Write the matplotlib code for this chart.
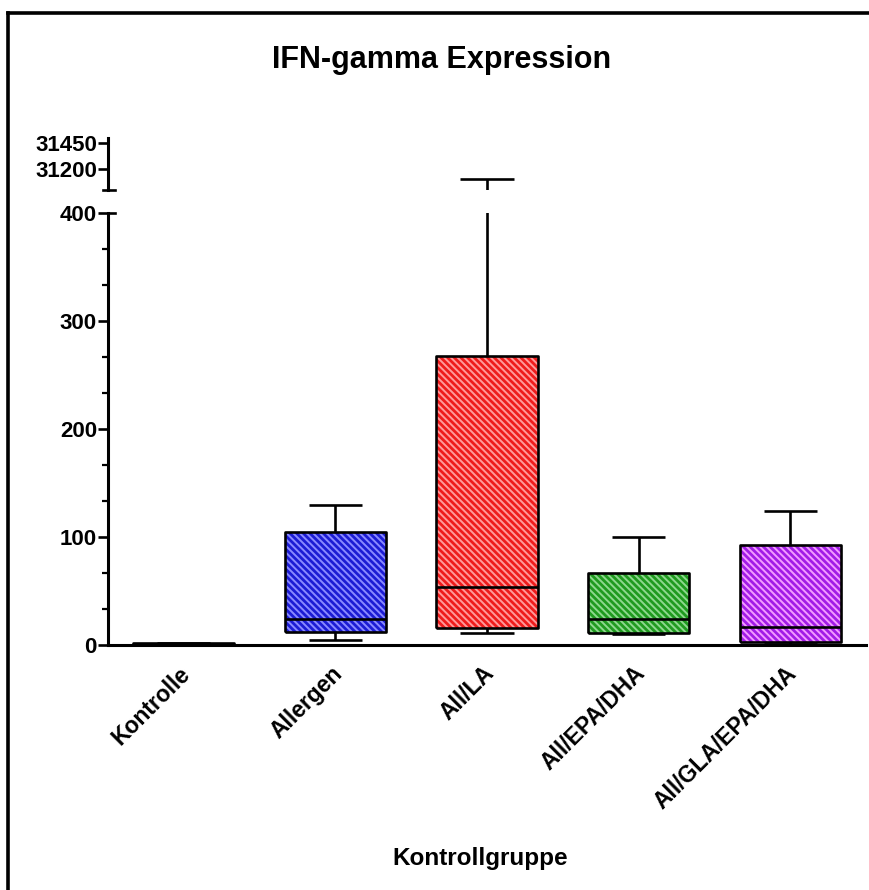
import matplotlib
matplotlib.use("Agg")
import matplotlib.pyplot as plt
import matplotlib.transforms as mtransforms
from matplotlib.ticker import MultipleLocator, FixedLocator

plt.rcParams['font.family'] = ['Liberation Sans', 'DejaVu Sans']
plt.rcParams['font.weight'] = 'bold'
plt.rcParams['hatch.linewidth'] = 1.4

# Box statistics per group
groups = ["Kontrolle", "Allergen", "All/LA", "All/EPA/DHA", "All/GLA/EPA/DHA"]
whisker_low = [0.5, 5, 11, 10, 1]
q1 = [0.5, 12, 16, 11, 3]
median = [1, 24, 54, 24, 17]
q3 = [2, 105, 268, 67, 93]
whisker_high = [2, 130, 31110, 100, 124]

face_colors = ["#ffffff", "#1c1cd4", "#ee1c1c", "#1f9a1f", "#a21ce6"]
stripe_colors = ["#ffffff", "#8a8aff", "#ff9a9a", "#8ed88e", "#f29cff"]

stats = [dict(label=g, whislo=lo, q1=a, med=m, q3=b, whishi=hi, fliers=[])
         for g, lo, a, m, b, hi in zip(groups, whisker_low, q1, median, q3, whisker_high)]
positions = list(range(1, len(groups) + 1))

fig = plt.figure(figsize=(8.69, 8.90), dpi=100)
W, H = 869, 890

def frac(x0, y0, x1, y1):
    return [x0 / W, 1 - y1 / H, (x1 - x0) / W, (y1 - y0) / H]

ax = fig.add_axes(frac(108, 213, 866, 645))
ax_top = fig.add_axes(frac(108, 138, 866, 190), sharex=ax)

line_kw = dict(color="black", linewidth=1.9, solid_capstyle="butt")

def draw(axis, hatched):
    if hatched:
        res = axis.bxp(stats, positions=positions, widths=0.667, patch_artist=True,
                       showcaps=False, showfliers=False,
                       whiskerprops=dict(linewidth=0), medianprops=dict(linewidth=0),
                       boxprops=dict(linewidth=0))
        for patch, fc, sc in zip(res["boxes"], face_colors, stripe_colors):
            patch.set_facecolor(fc)
            patch.set_edgecolor(sc)
            patch.set_hatch("\\" * 5)
            patch.set_linewidth(0)
    axis.bxp(stats, positions=positions, widths=0.667, showfliers=False,
             capwidths=0.35,
             boxprops=line_kw, whiskerprops=line_kw, capprops=line_kw,
             medianprops=line_kw)

draw(ax, True)
draw(ax_top, False)

tick_fs = 16

# Lower segment
ax.set_xlim(0.5, 5.5)
ax.set_ylim(0, 400)
ax.set_xticks(positions)
ax.set_xticklabels([])
ax.tick_params(axis="x", length=0)
label_tf = ax.get_xaxis_transform() + mtransforms.ScaledTranslation(-5 / 100, -17 / 100,
                                                                    fig.dpi_scale_trans)
for pos, name in zip(positions, groups):
    ax.text(pos, 0, name, transform=label_tf, rotation=45, ha="right", va="top",
            rotation_mode="anchor", fontsize=16.5, fontweight="bold")

ax.yaxis.set_major_locator(MultipleLocator(100))
ax.yaxis.set_minor_locator(FixedLocator([100 / 3 * k for k in range(1, 13) if k % 3]))
ax.tick_params(axis="y", which="major", length=7, width=1.9, labelsize=tick_fs, pad=1)
ax.tick_params(axis="y", which="minor", length=4, width=1.6)
for lab in ax.get_yticklabels():
    lab.set_fontweight("bold")
for s in ("top", "right"):
    ax.spines[s].set_visible(False)
ax.spines["left"].set_linewidth(2.2)
ax.spines["bottom"].set_linewidth(2.2)
ax.plot([0, 0.009], [1, 1], transform=ax.transAxes, color="black",
        linewidth=1.9, clip_on=False)

# Upper segment
ax_top.set_ylim(31000, 31500)
ax_top.set_yticks([31200, 31450])
ax_top.tick_params(axis="y", length=7, width=1.9, labelsize=tick_fs, pad=1)
ax_top.tick_params(axis="x", bottom=False, labelbottom=False)
for lab in ax_top.get_yticklabels():
    lab.set_fontweight("bold")
for s in ("top", "right", "bottom"):
    ax_top.spines[s].set_visible(False)
ax_top.spines["left"].set_linewidth(2.2)
ax_top.spines["left"].set_bounds(31000, 31500)
ax_top.plot([-0.006, 0.009], [0, 0], transform=ax_top.transAxes, color="black",
            linewidth=1.9, clip_on=False)
ax_top.patch.set_alpha(0)

fig.text(442 / W, 1 - 60 / H, "IFN-gamma Expression", ha="center", va="center",
         fontsize=22, fontweight="bold")
fig.text(480 / W, 1 - 858 / H, "Kontrollgruppe", ha="center", va="center",
         fontsize=17.5, fontweight="bold")

# Frame along the top and left edges
fig.add_artist(plt.Line2D([8 / W, 8 / W], [0, 1 - 13 / H], color="black",
                          linewidth=2.6, transform=fig.transFigure))
fig.add_artist(plt.Line2D([8 / W, 1], [1 - 13 / H, 1 - 13 / H], color="black",
                          linewidth=2.6, transform=fig.transFigure))

fig.savefig("out.png", dpi=100)
